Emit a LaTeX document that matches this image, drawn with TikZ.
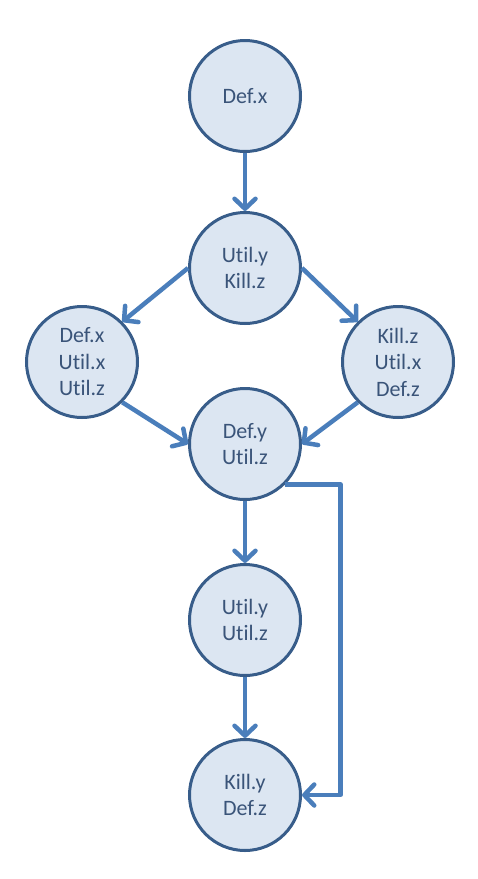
\documentclass[tikz,border=0pt]{standalone}
\usepackage{fontspec}
\setmainfont{Carlito}[RawFeature={-liga;-clig}]
\usetikzlibrary{arrows.meta}
\definecolor{nodefill}{HTML}{DCE6F2}
\definecolor{nodeline}{HTML}{385D8A}
\definecolor{arrowblue}{HTML}{4A7EBB}
\definecolor{textblue}{HTML}{3A5479}
\tikzset{
  state/.style={circle, draw=nodeline, fill=nodefill, line width=3pt,
    minimum size=111pt, inner sep=0pt, text=textblue, align=center,
    font=\fontsize{22pt}{26.5pt}\selectfont},
  flow/.style={draw=arrowblue, line width=4.5pt, line join=round,
    -{Straight Barb[length=10pt,width=21pt,line cap=round,line join=round]}}
}
\begin{document}
\begin{tikzpicture}[x=1pt,y=-1pt]
\useasboundingbox (0,0) rectangle (478,879);
\node[state] (A) at (245,96) {Def.x};
\node[state] (B) at (245,268) {Util.y\\Kill.z};
\node[state] (C) at (82,362) {Def.x\\Util.x\\Util.z};
\node[state] (D) at (398,362) {Kill.z\\Util.x\\Def.z};
\node[state] (E) at (245,444) {Def.y\\Util.z};
\node[state] (F) at (245,620) {Util.y\\Util.z};
\node[state] (G) at (245,795) {Kill.y\\Def.z};
\draw[flow] (A.south) -- (B.north);
\draw[flow] (B.west) -- (C.north east);
\draw[flow] (B.east) -- (D.north west);
\draw[flow] (C.south east) -- (E.west);
\draw[flow] (D.south west) -- (E.east);
\draw[flow] (E.south) -- (F.north);
\draw[flow] (F.south) -- (G.north);
\draw[flow] (E.south east) -- ++(55,0) |- (G.east);
\end{tikzpicture}
\end{document}
